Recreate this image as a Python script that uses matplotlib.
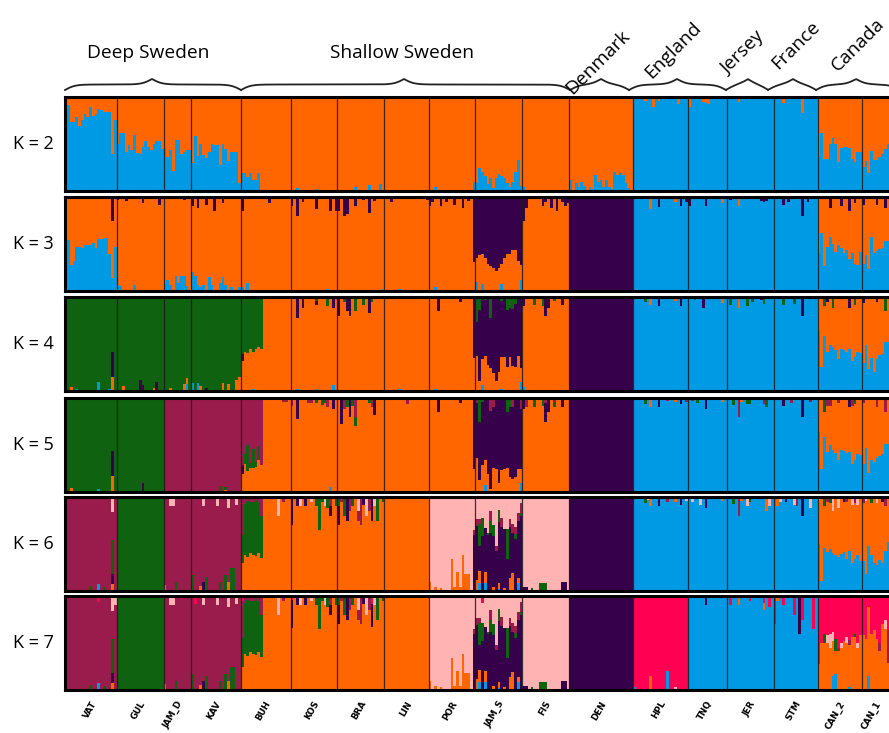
import numpy as np
import matplotlib
matplotlib.use('Agg')
import matplotlib.pyplot as plt

# populations and sample sizes (left to right)
pops = ['VAT', 'GUL', 'JAM_D', 'KAV', 'BUH', 'KOS', 'BRA', 'LIN', 'POR', 'JAM_S', 'FIS',
        'DEN', 'HPL', 'TNQ', 'JER', 'STM', 'CAN_2', 'CAN_1']
counts = [18, 17, 10, 18, 18, 17, 17, 16, 17, 17, 17, 23, 20, 14, 17, 16, 16, 10]

# cluster colours
COL = {'b': '#0099e3', 'o': '#ff6600', 'p': '#36004a', 'g': '#0f620f',
       'm': '#991c4d', 'k': '#ffb3b3', 'r': '#ff0052'}

# ancestry per population, bottom -> top; "c" alone = remainder, "c: i=v" sparse (%), else dense (%)
k2 = ["b: 91 73 73 79 69 76 82 79 89 80 82 87 86 84 84 84 39 76; o",
      "b: 50 62 62 42 49 44 60 40 39 47 53 47 44 50 53 53 45; o",
      "b: 46 36 44 21 54 54 39 41 44 44; o",
      "b: 30 59 37 50 38 35 41 50 49 49 28 50 45 32 41 41 41 8; o",
      "b: 19 19 15 19 12 12 19; o",
      "b: 2=3 9=2; o",
      "b: 6=4 11=6 15=7; o",
      "o",
      "b: 2=4 16=10; o",
      "b: 8 25 20 16 7 14 3 14 18 16 14 9 4 10 20 33 5; o",
      "b: 0=4; o",
      "b: 12 0 9 4 10 5 1 4 2 17 10 12 4 12 4 2 20 17 19 17 9 3 0; o",
      "b; o: 4=4 7=11 9=4 16=7",
      "b; o: 0=11 5=5 6=6 7=7",
      "b; o: 4=5",
      "b; o: 3=6 10=17",
      "b: 36 62 34 34 50 56 50 31 46 47 47 46 34 31 42 42; o",
      "b: 26 32 19 43 33 33 36 39 45 50; o"]

k3 = ["b: 54 28 32 47 47 46 49 49 49 51 46 55 55 56 56 39 14 47; o; p: 0=2 16=26",
      "b: 0=6 1=5 6=6; o; p: 0=3 3=4 9=6 15=9",
      "b: 7 12 6 0 16 8 16 16 5 0; o; p: 7=3",
      "b: 20 16 6 4 6 0 15 6 0 0 8 15 6 0 4 0 0 4; o; p: 0=10 2=12 5=8 8=15 11=6",
      "b: 0=4 2=9; o; p: 0=15 10=6",
      "b: 13=2; o; p: 0=10 2=20 4=5 9=13 14=15 16=15",
      "b: 16=2; o; p: 0=15 2=20 3=18 6=10 9=3 11=17 13=4",
      "b: 5=2; o; p: 2=5 5=2 15=3",
      "b: 2=4; o; p: 0=10 1=5 4=10 6=5 9=8 12=12 14=4 16=69",
      "b: 10 0 7 0 0 0 0 0 0 7 0 0 0 0 0 0 12; o; p: 65 62 61 65 71 73 75 79 75 71 65 61 61 56 56 68 72",
      "o; p: 25 12 2 0 0 0 0 10 5 0 12 0 15 0 5 10 6",
      "p",
      "b; o: 6=13 15=5; p: 9=11 17=10 19=5",
      "b; o: 12=6; p: 0=10 6=10",
      "b; o: 4=10; p: 1=3 12=4 13=5 14=4",
      "b; p: 3=8 5=5 10=20 12=5",
      "b: 40 62 27 47 57 50 42 49 46 40 44 34 40 29 28 41; o; p: 4=12 8=10 11=15 13=6",
      "b: 29 38 23 57 40 43 45 46 53 53; o; p: 0=8 5=8 8=12"]

k4 = ["b: 3=2 11=10 15=2; o: 1=4 16=15; p: 16=27; g",
      "o: 2=5 13=3; p: 8=12 9=6 14=10; g",
      "b: 8=7; o: 2=3 7=7 8=7; g",
      "b: 0=8 2=8; o: 3=5 11=8 13=7 16=12 17=15; p: 5=3; g",
      "b: 4=2; o; p: 0=7; g: 61 58 60 55 58 55 53 55",
      "b: 2=2 9=2 15=6; o; p: 2=22 4=12 9=5 15=12; g: 9=4 13=10",
      "o; p: 0=20 3=15 4=20 11=17; g: 2=5 6=15 9=8 12=5",
      "b: 5=2; o",
      "b: 2=2; o; p: 3=15 11=5 16=65",
      "b: 0 0 6 0 0 0 0 0 0 2 0 0 0 0 0 0 10; o: 37 11 28 37 28 24 19 11 20 34 36 26 36 27 26 37 15; p; g: 27 14 2 3 2 22 2 2 2 4 2 14 12 13 7 2 2",
      "b: 0=4; o; p: 0=10 8=20 9=12 14=8; g: 4=8 7=10 11=4",
      "p",
      "b; o: 6=8 15=4; p: 9=10 17=10; g: 4=5",
      "b; o: 12=6; p: 5=12; g: 2=3",
      "b; o: 4=12; p: 12=3; g: 1=8 7=10 9=5 13=7",
      "b; p: 10=20; g: 3=8 7=7",
      "b: 64 26 58 41 49 47 44 34 45 44 42 45 32 36 42 40; o; p: 3=5 11=12; g: 2=10 5=12 13=8",
      "b: 30 49 23 35 20 34 38 39 52 52; o; p: 0=6 5=5; g: 8=15"]

k5 = ["b: 11=3; o: 1=4 16=17; p: 16=27; g",
      "p: 9=10; g",
      "m",
      "o: 12=2; g: 10=6 12=3; m",
      "o; p: 0=10; g: 1=10 2=28 3=5 4=20 5=5 6=15; m: 71 60 50 69 54 68 51 71 0 0 0 0 0 0 0 4 4",
      "b: 14=5; o; p: 2=22 15=12; g: 9=5 11=7 12=5; m: 0=8 6=5 7=5 13=10",
      "o; p: 1=28 4=20 13=18; g: 3=10 5=8 6=10 11=5; m: 2=12 6=20 12=10",
      "o; m: 8=6",
      "o; p: 3=15 11=5 16=75; m: 0=2",
      "b: 3=7 16=10; o: 36 13 29 27 19 3 26 25 10 23 25 26 16 14 16 24 14; p; g: 1=26 2=4 11=15 12=10; m: 0=5 5=14 6=10 13=10 16=12",
      "o; p: 0=12 8=20 9=15 14=10; g: 4=10 7=8 11=6; m: 1=10 8=5 11=4",
      "p",
      "b; o: 6=10 15=4; p: 9=10 17=6; g: 4=6; m: 12=3 19=4",
      "b; o: 12=4; p: 6=12; g: 3=5; m: 1=3",
      "b; o: 5=4; g: 2=7 7=6 8=6 14=10; m: 4=20 13=6",
      "b; p: 3=8 10=20; m: 6=5 13=4",
      "b: 64 25 58 43 50 45 42 34 45 44 41 43 30 34 40 39; o; p: 11=10; g: 2=15 13=6; m: 3=8 4=8 7=5 12=8",
      "b: 30 47 20 34 32 36 38 40 51 51; o; m: 0=5 5=10 8=15"]

k6 = ["b: 11=7; o: 16=7; p: 16=11; g: 8=5 13=4 16=36; m; k: 16=16",
      "g",
      "o: 0=6; g: 4=10; m; k: 2=10 3=10",
      "o: 3=5 13=10; p: 4=10; g: 0=17 5=15 10=10 12=17 14=25 15=25; m; k: 4=10 9=10 13=12 16=8",
      "o; g: 30 55 60 55 57 60 55 45; m: 40 5 4 3 5 3 5 20 0 0 0 0 0 0 0 5; k: 1=2 3=2 13=20",
      "o; p: 0=30 2=10 5=10 14=10; g: 9=10 10=35 11=5 13=12 16=10; m: 14=10; k: 3=10 7=5 12=10",
      "o; p: 0=20 3=25 9=8 12=25; g: 0=10 2=20 5=10 14=25 16=5; m: 1=5 4=15 7=10 8=30 11=15; k: 7=15 10=20 13=10",
      "o",
      "o: 10 0 4 0 3 0 0 0 34 4 20 4 38 18 18 0 0; p: 16=60; m: 16=5; k",
      "b: 1=9 3=9 8=2 15=9; o: 0=12 1=12 3=11 6=4 8=6 10=3 12=14 13=19 15=5; p; "
      "g: 1=23 2=19 4=2 5=13 6=11 8=13 11=32 14=6 16=3; m: 0=8 1=6 5=10 7=5 9=10 12=9 13=9 14=7 15=8 16=11; "
      "k: 23 23 22 33 38 15 30 52 14 22 34 34 23 29 32 17 6",
      "p: 0=4 1=4 14=10 15=10; g: 3=3 6=8 7=8 8=8; k",
      "p",
      "b; o: 6=10 15=5; p: 9=10 17=8; g: 4=6; m: 12=5; k: 5=3 19=4",
      "b; o: 12=4; p: 6=12; k: 1=5 4=8",
      "b; o: 5=4 14=15; g: 2=7 8=5; m: 4=20; k: 7=10 15=10",
      "b; o: 1=10; p: 4=5 10=20; m: 8=10; k: 2=5 7=8 13=12",
      "b: 50 11 46 41 45 40 38 36 39 41 34 43 30 34 38 32; o; p: 9=5; g: 2=10 4=6; m: 3=5 10=5 13=6; k: 0=3 5=15 7=12 12=8 14=8",
      "b: 32 18 48 38 30 28 33 30 43 52; o; p: 7=5; g: 3=6; m: 0=6 8=10; k: 1=4 5=6"]

k7 = ["b: 11=7; o: 16=7; p: 16=11; g: 8=5 13=4 16=36; m; k: 16=16 17=10; r: 11=6",
      "g",
      "o: 0=6; g: 4=10; m; k: 2=10 3=10; r: 6=3",
      "o: 3=5 13=10; p: 4=10; g: 0=17 5=15 10=10 12=17 14=25 15=25; m; k: 4=10 9=10 13=12 16=8; r: 1=8",
      "o; g: 30 55 60 55 57 60 55 45; m: 40 5 4 3 5 3 5 20 0 0 0 0 0 0 0 5; k: 1=2 3=2 13=20; r: 0=5",
      "o; p: 0=30 2=10 5=10 14=10; g: 9=10 10=35 11=5 13=12 16=10; m: 14=10; k: 3=10 7=5 12=10; r: 0=4",
      "o; p: 0=20 3=25 9=8 12=25; g: 0=10 2=20 5=10 14=25 16=5; m: 1=5 4=15 7=10 8=30 11=15; k: 7=15 10=20 13=10; r: 12=8",
      "o",
      "o: 10 0 4 0 3 0 0 0 34 4 20 4 38 18 18 0 0; p: 16=60; m: 16=5; k",
      "b: 1=9 3=9 8=2 15=9; o: 0=12 1=12 3=11 6=4 8=6 10=3 12=14 13=19 15=5; p; "
      "g: 1=23 2=19 4=2 5=13 6=11 8=13 11=32 14=6 16=3; m: 0=8 1=6 5=10 7=5 9=10 12=9 13=9 14=7 15=8 16=11; "
      "k: 23 23 22 33 38 15 30 52 14 22 34 34 23 29 32 17 6; r: 2=7",
      "p: 0=4 1=4 14=10 15=10; g: 3=3 6=8 7=8 8=8; k",
      "p",
      "b: 0=3 12=20; o: 6=15; k: 15=3; r",
      "b; p: 6=10",
      "b; o: 4=10 13=8; r: 1=10 8=5 13=7 15=12",
      "b; o: 1=5; p: 9=40; r: 0=30 3=10 7=20 10=25 14=35",
      "b: 5=15 6=17 11=3; o; g: 2=10 6=12 13=4; m: 7=4 11=5; k: 3=8 4=15 5=10 8=5 10=6 14=5; "
      "r: 72 50 40 42 40 38 46 55 50 48 44 47 44 40 50 42",
      "b: 2=15; o; m: 6=8 9=35; k: 8=10; r: 42 46 12 40 36 46 50 30 25 36"]

rows = [('K = 2', k2), ('K = 3', k3), ('K = 4', k4), ('K = 5', k5), ('K = 6', k6), ('K = 7', k7)]

# group labels: (text, x, y, rotation) and braces (x0, x1, tip) in pixels
groups = [('Deep Sweden', 148, 53, 0), ('Shallow Sweden', 402, 53, 0), ('Denmark', 598, 62, 45),
          ('England', 673, 50, 45), ('Jersey', 743, 53, 45), ('France', 796, 45, 45),
          ('Canada', 858, 45, 45)]
braces = [(65, 241, 152), (241, 570, 404), (570, 629, 601), (629, 726, 677),
          (726, 768, 748), (768, 816, 793), (816, 900, 856)]


def parse(spec, n):
    layers = []
    for part in spec.split(';'):
        part = part.strip()
        if not part:
            continue
        if ':' in part:
            c, vals = part.split(':')
            v = np.zeros(n)
            toks = vals.split()
            if any('=' in t for t in toks):
                for t in toks:
                    i, val = t.split('=')
                    v[int(i)] = float(val) / 100
            else:
                arr = [float(t) / 100 for t in toks]
                v[:len(arr)] = arr
            layers.append([c.strip(), v])
        else:
            layers.append([part, None])
    used = np.zeros(n)
    for c, v in layers:
        if v is not None:
            used = used + v
    for L in layers:
        if L[1] is None:
            L[1] = np.clip(1 - used, 0, 1)
    return layers


W, H = 889, 733
fig = plt.figure(figsize=(W / 100, H / 100), dpi=100)

px = 2.76
x0 = 67
starts = np.concatenate([[0], np.cumsum(counts)])
row_top = [97, 197, 297, 398, 497, 596]
row_h = 94

axes = []
for (lab, specs), ytop in zip(rows, row_top):
    ybot = ytop + row_h
    left = 65
    right = x0 + 298 * px
    ax = fig.add_axes([left / W, 1 - ybot / H, (right - left) / W, row_h / H])
    for j, spec in enumerate(specs):
        n = counts[j]
        xs = starts[j] + np.arange(n)
        bottom = np.zeros(n)
        for c, v in parse(spec, n):
            ax.bar(xs, v, bottom=bottom, width=1.0, align='edge', color=COL[c],
                   linewidth=0, antialiased=False)
            bottom = bottom + v
    for s in starts[1:-1]:
        ax.axvline(s, color='#1a1a1a', lw=0.9, alpha=0.85)
    ax.set_xlim(-(x0 - left) / px, 298)
    ax.set_ylim(0, 1)
    ax.set_xticks([])
    ax.set_yticks([])
    for side in ['top', 'bottom', 'left']:
        ax.spines[side].set_linewidth(2.2)
        ax.spines[side].set_color('black')
    ax.spines['right'].set_visible(False)
    fig.text(33 / W, 1 - (ytop + ybot) / 2 / H, lab, ha='center', va='center',
             fontsize=13, family='Open Sans')
    axes.append(ax)

# population labels under the last row
last = axes[-1]
for j, p in enumerate(pops):
    c = starts[j] + counts[j] / 2
    last.text(c + 2.6, -0.1, p, rotation=60, ha='right', va='top', fontsize=6.3,
              fontweight='bold', family='DejaVu Sans', transform=last.get_xaxis_transform(),
              clip_on=False)

# overlay for the group labels and braces
ov = fig.add_axes([0, 0, 1, 1], zorder=5)
ov.set_xlim(0, W)
ov.set_ylim(H, 0)
ov.axis('off')
ov.patch.set_alpha(0)

for txt, x, y, rot in groups:
    ov.text(x, y, txt, ha='center', va='center', rotation=rot, fontsize=13.8, family='Open Sans',
            rotation_mode='anchor')


def brace(xa, xb, xt, yb=90, ym=84.5, beta=0.2):
    xl = np.linspace(xa, xt, 200)
    yl = 1 / (1 + np.exp(-beta * (xl - xl[0]))) + 1 / (1 + np.exp(-beta * (xl - xl[-1])))
    xr = np.linspace(xt, xb, 200)
    yr = 1 / (1 + np.exp(-beta * (xr - xr[0]))) + 1 / (1 + np.exp(-beta * (xr - xr[-1])))
    xs = np.concatenate([xl, xr])
    ys = np.concatenate([yl, yr[::-1]])
    return xs, yb - (ys - 0.5) * (yb - ym) / 0.5


for xa, xb, xt in braces:
    bx, by = brace(xa, xb, xt)
    ov.plot(bx, by, color='#222222', lw=1.3)

fig.savefig('out.png', dpi=100)
